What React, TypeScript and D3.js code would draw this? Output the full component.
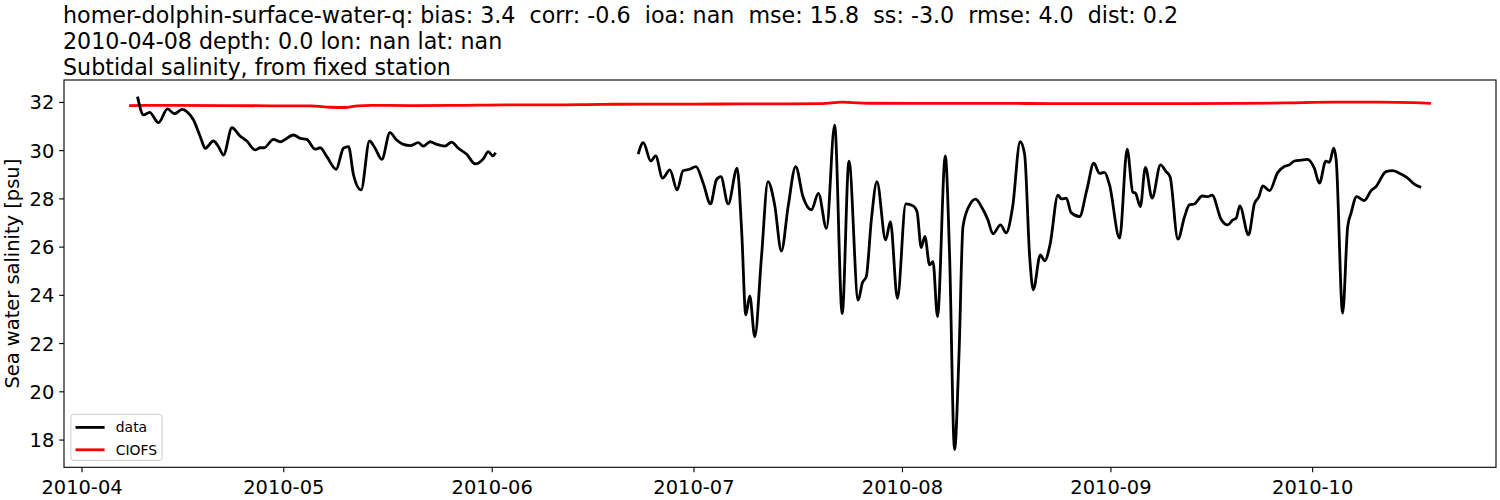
import React from "react";
import * as d3 from "d3";

// ---- data ----
const titleLines = [
  "homer-dolphin-surface-water-q: bias: 3.4  corr: -0.6  ioa: nan  mse: 15.8  ss: -3.0  rmse: 4.0  dist: 0.2",
  "2010-04-08 depth: 0.0 lon: nan lat: nan",
  "Subtidal salinity, from fixed station",
];
const yLabel = "Sea water salinity [psu]";
const xTickLabels = ["2010-04", "2010-05", "2010-06", "2010-07", "2010-08", "2010-09", "2010-10"];
const yTickValues = [18, 20, 22, 24, 26, 28, 30, 32];
const yLimits = [16.87, 32.93];
const legendLabels = ["data", "CIOFS"];

const dataTimes = [
  "2010-04-09 06", "2010-04-10 04", "2010-04-11 01", "2010-04-12 09", "2010-04-13 17", "2010-04-14 18",
  "2010-04-15 21", "2010-04-16 14", "2010-04-17 14", "2010-04-18 14", "2010-04-19 08", "2010-04-20 13",
  "2010-04-21 07", "2010-04-22 01", "2010-04-23 07", "2010-04-24 12", "2010-04-25 12", "2010-04-26 18",
  "2010-04-27 12", "2010-04-28 02", "2010-04-29 11", "2010-04-30 11", "2010-05-02 11", "2010-05-03 11",
  "2010-05-04 10", "2010-05-05 16", "2010-05-06 10", "2010-05-07 10", "2010-05-08 19", "2010-05-09 21",
  "2010-05-10 15", "2010-05-11 09", "2010-05-12 12", "2010-05-13 18", "2010-05-14 14", "2010-05-15 14",
  "2010-05-16 19", "2010-05-17 19", "2010-05-18 19", "2010-05-19 19", "2010-05-21 00", "2010-05-21 18",
  "2010-05-22 18", "2010-05-23 18", "2010-05-24 23", "2010-05-25 23", "2010-05-26 23", "2010-05-28 05",
  "2010-05-29 11", "2010-05-30 16", "2010-05-31 10", "2010-06-01 02", "2010-06-01 12",
  "2010-06-10 00",
  "2010-06-22 17", "2010-06-23 11", "2010-06-24 14", "2010-06-25 07", "2010-06-26 08", "2010-06-27 10",
  "2010-06-28 12", "2010-06-29 09", "2010-06-30 09", "2010-07-01 07", "2010-07-02 09", "2010-07-03 11",
  "2010-07-04 08", "2010-07-05 00", "2010-07-06 02", "2010-07-07 10", "2010-07-08 02", "2010-07-08 17",
  "2010-07-09 07", "2010-07-10 01", "2010-07-11 01", "2010-07-12 00", "2010-07-13 00", "2010-07-14 00",
  "2010-07-15 00", "2010-07-16 03", "2010-07-17 05", "2010-07-18 11", "2010-07-19 12", "2010-07-20 17",
  "2010-07-21 22", "2010-07-23 01", "2010-07-24 01", "2010-07-25 10", "2010-07-26 01", "2010-07-26 15",
  "2010-07-27 09", "2010-07-28 05", "2010-07-29 12", "2010-07-30 05", "2010-07-31 06", "2010-08-01 12",
  "2010-08-02 14", "2010-08-03 04", "2010-08-03 19", "2010-08-04 08", "2010-08-05 01", "2010-08-05 13",
  "2010-08-06 05", "2010-08-07 09", "2010-08-08 00", "2010-08-08 18", "2010-08-09 10", "2010-08-10 00",
  "2010-08-11 00", "2010-08-11 21", "2010-08-12 21", "2010-08-13 17", "2010-08-14 11", "2010-08-15 14",
  "2010-08-16 10", "2010-08-17 09", "2010-08-18 12", "2010-08-19 04", "2010-08-19 22", "2010-08-20 11",
  "2010-08-21 12", "2010-08-22 04", "2010-08-22 23", "2010-08-24 03", "2010-08-24 15", "2010-08-25 09",
  "2010-08-26 02", "2010-08-27 08", "2010-08-28 10", "2010-08-29 11", "2010-08-30 07", "2010-08-31 01",
  "2010-08-31 19", "2010-09-02 07", "2010-09-03 10", "2010-09-04 06", "2010-09-04 16", "2010-09-05 09",
  "2010-09-06 03", "2010-09-07 03", "2010-09-08 09", "2010-09-09 05", "2010-09-09 19", "2010-09-10 23",
  "2010-09-11 23", "2010-09-12 16", "2010-09-13 10", "2010-09-14 14", "2010-09-15 10", "2010-09-16 01",
  "2010-09-17 09", "2010-09-18 09", "2010-09-19 03", "2010-09-19 15", "2010-09-20 04", "2010-09-21 11",
  "2010-09-22 08", "2010-09-23 00", "2010-09-23 14", "2010-09-24 14", "2010-09-25 19", "2010-09-26 19",
  "2010-09-27 13", "2010-09-28 07", "2010-09-29 07", "2010-09-30 05", "2010-10-01 06", "2010-10-02 00",
  "2010-10-02 23", "2010-10-03 12", "2010-10-04 03", "2010-10-04 12", "2010-10-05 11", "2010-10-06 05",
  "2010-10-06 17", "2010-10-07 13", "2010-10-08 16", "2010-10-09 16", "2010-10-10 10", "2010-10-11 22",
  "2010-10-12 21", "2010-10-14 03", "2010-10-15 03", "2010-10-16 03", "2010-10-17 03",
];
const dataValues: (number | null)[] = [
  32.24, 31.48, 31.59, 31.16, 31.73, 31.53,
  31.71, 31.62, 31.27, 30.58, 30.10, 30.40,
  30.17, 29.82, 30.95, 30.61, 30.40, 30.03,
  30.12, 30.12, 30.47, 30.37, 30.65, 30.51,
  30.47, 30.06, 30.12, 29.75, 29.23, 30.10,
  30.17, 28.99, 28.37, 30.40, 30.10, 29.64,
  30.75, 30.44, 30.26, 30.21, 30.33, 30.19,
  30.37, 30.26, 30.19, 30.35, 30.10, 29.85,
  29.45, 29.66, 29.96, 29.78, 29.92,
  null,
  29.86, 30.33, 29.57, 29.78, 28.86, 29.20,
  28.37, 29.17, 29.23, 29.34, 28.65, 27.79,
  28.79, 28.92, 27.79, 29.27, 26.71, 23.19,
  23.98, 22.29, 25.61, 28.72, 27.75, 25.84,
  27.68, 29.34, 28.09, 27.55, 28.23, 26.78,
  31.06, 23.24, 29.57, 23.80, 24.52, 24.78,
  27.13, 28.72, 26.30, 27.06, 23.88, 27.79,
  27.71, 27.47, 25.98, 26.44, 25.26, 25.40,
  23.12, 29.78, 25.75, 17.60, 21.61, 26.85,
  27.75, 27.99, 27.61, 27.13, 26.55, 26.92,
  26.59, 27.65, 30.37, 29.85, 25.60, 24.23,
  25.68, 25.43, 26.12, 28.16, 28.00, 28.03,
  27.43, 27.27, 28.37, 29.48, 29.06, 29.10,
  28.58, 26.37, 30.06, 28.28, 28.23, 27.68,
  29.31, 28.03, 29.41, 29.13, 28.92, 26.33,
  27.27, 27.75, 27.79, 28.12, 28.09, 28.16,
  27.16, 26.92, 27.13, 27.20, 27.71, 26.51,
  27.79, 28.09, 28.54, 28.34, 29.09, 29.34,
  29.41, 29.57, 29.61, 29.64, 29.27, 28.65,
  29.57, 29.52, 30.10, 29.61, 23.26, 26.85,
  27.41, 28.09, 27.93, 28.33, 28.51, 29.13,
  29.17, 29.03, 28.86, 28.61, 28.48,
];

const modelTimes = [
  "2010-04-08 00", "2010-04-15 00", "2010-04-22 00", "2010-04-29 00", "2010-05-05 00", "2010-05-08 00",
  "2010-05-10 00", "2010-05-12 00", "2010-05-14 00", "2010-05-20 00", "2010-05-27 00", "2010-06-03 00",
  "2010-06-10 00", "2010-06-17 00", "2010-06-24 00", "2010-07-01 00", "2010-07-08 00", "2010-07-15 00",
  "2010-07-20 00", "2010-07-23 00", "2010-07-26 00", "2010-08-02 00", "2010-08-09 00", "2010-08-16 00",
  "2010-08-23 00", "2010-08-30 00", "2010-09-06 00", "2010-09-13 00", "2010-09-20 00", "2010-09-27 00",
  "2010-10-04 00", "2010-10-11 00", "2010-10-16 00", "2010-10-18 14",
];
const modelValues = [
  31.87, 31.88, 31.87, 31.86, 31.86, 31.80,
  31.79, 31.86, 31.88, 31.87, 31.88, 31.90,
  31.90, 31.92, 31.93, 31.93, 31.94, 31.94,
  31.95, 32.01, 31.97, 31.96, 31.96, 31.96,
  31.95, 31.95, 31.95, 31.95, 31.96, 31.98,
  32.01, 32.01, 31.99, 31.96,
];

// ---- layout ----
const W = 1500;
const H = 500;
const PL = 64;
const PR = 1496;
const PT = 80;
const PB = 467.3;
const FONT = "DejaVu Sans";
const TICK = 4.86;

const parseT = d3.timeParse("%Y-%m-%d %H");
const parseM = d3.timeParse("%Y-%m");

type Pt = { t: Date; v: number | null };

export default function App() {
  const data: Pt[] = dataTimes.map((t, i) => ({ t: parseT(t) as Date, v: dataValues[i] }));
  const model: Pt[] = modelTimes.map((t, i) => ({ t: parseT(t) as Date, v: modelValues[i] }));

  const [t0, t1] = d3.extent(model, (d) => d.t) as [Date, Date];
  const pad = (+t1 - +t0) * 0.05;
  const x = d3
    .scaleTime()
    .domain([new Date(+t0 - pad), new Date(+t1 + pad)])
    .range([PL, PR]);
  const y = d3.scaleLinear().domain(yLimits).range([PB, PT]);

  const line = d3
    .line<Pt>()
    .defined((d) => d.v != null)
    .x((d) => x(d.t))
    .y((d) => y(d.v as number))
    .curve(d3.curveMonotoneX);

  const xTicks = xTickLabels.map((s) => ({ label: s, t: parseM(s) as Date }));

  const legendX = 70.9;
  const legendY = 414.3;
  const legendW = 91.2;
  const legendH = 46.1;
  const rowYs = [427.4, 449.8];
  const colors = ["#000000", "#ff0000"];

  return (
    <svg
      width={W}
      height={H}
      style={{ position: "absolute", left: 0, top: 0, background: "#fff" }}
      fontFamily={FONT}
    >
      <rect x={0} y={0} width={W} height={H} fill="#fff" />
      {titleLines.map((s, i) => (
        <text key={i} x={PL - 1} y={22.5 + i * 26.4} fontSize={22.2} fill="#000" style={{ whiteSpace: "pre" }}>
          {s}
        </text>
      ))}

      <g>
        <path d={line(model) || ""} fill="none" stroke="#ff0000" strokeWidth={2.8} />
        <path d={line(data) || ""} fill="none" stroke="#000000" strokeWidth={2.8} strokeLinejoin="round" />
      </g>

      <rect x={PL} y={PT} width={PR - PL} height={PB - PT} fill="none" stroke="#000" strokeWidth={1.1} />

      {xTicks.map((tk) => (
        <g key={tk.label} transform={`translate(${x(tk.t)},0)`}>
          <line y1={PB} y2={PB + TICK} stroke="#000" strokeWidth={1.1} />
          <text y={PB + 26.5} textAnchor="middle" fontSize={19.44} fill="#000">
            {tk.label}
          </text>
        </g>
      ))}

      {yTickValues.map((v) => (
        <g key={v} transform={`translate(0,${y(v)})`}>
          <line x1={PL - TICK} x2={PL} stroke="#000" strokeWidth={1.1} />
          <text x={PL - 9.7} y={7} textAnchor="end" fontSize={19.44} fill="#000">
            {v}
          </text>
        </g>
      ))}

      <text
        transform={`translate(19,${(PT + PB) / 2}) rotate(-90)`}
        textAnchor="middle"
        fontSize={19.44}
        fill="#000"
      >
        {yLabel}
      </text>

      <g>
        <rect
          x={legendX}
          y={legendY}
          width={legendW}
          height={legendH}
          rx={3}
          fill="#fff"
          fillOpacity={0.8}
          stroke="#cccccc"
          strokeWidth={1}
        />
        {legendLabels.map((lab, i) => (
          <g key={lab}>
            <line x1={75.5} x2={104.6} y1={rowYs[i]} y2={rowYs[i]} stroke={colors[i]} strokeWidth={2.8} />
            <text x={115.8} y={rowYs[i] + 5} fontSize={13.9} fill="#000">
              {lab}
            </text>
          </g>
        ))}
      </g>
    </svg>
  );
}
